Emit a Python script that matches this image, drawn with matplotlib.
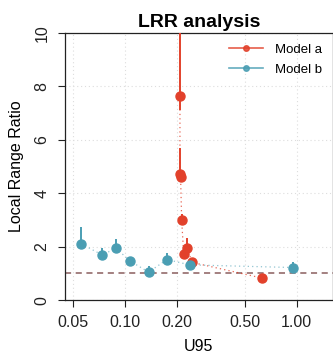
import numpy as np
import matplotlib
matplotlib.use("Agg")
import matplotlib.pyplot as plt

plt.rcParams["font.family"] = ["Liberation Sans", "DejaVu Sans"]

# Model a: U95 vs local range ratio, with interval bounds
u95_a = [0.2090, 0.2090, 0.2108, 0.2138, 0.2198, 0.2286, 0.2466, 0.625]
lrr_a = [7.63, 4.74, 4.60, 3.01, 1.71, 1.97, 1.41, 0.83]
lo_a = [7.12, 4.62, 4.50, 2.92, 1.62, 1.88, 1.34, 0.76]
hi_a = [11.0, 5.71, 4.80, 3.22, 1.80, 2.31, 1.50, 0.90]

# Model b
u95_b = [0.0555, 0.0738, 0.0887, 0.1065, 0.1374, 0.1757, 0.238, 0.955]
lrr_b = [2.11, 1.69, 1.95, 1.47, 1.05, 1.52, 1.32, 1.22]
lo_b = [2.02, 1.60, 1.86, 1.40, 0.98, 1.45, 1.25, 1.15]
hi_b = [2.74, 1.97, 2.27, 1.55, 1.27, 1.75, 1.40, 1.41]

x_ticks = [0.05, 0.10, 0.20, 0.50, 1.00]
y_ticks = [0, 2, 4, 6, 8, 10]

RED = "#E2412B"
BLUE = "#4A9EB3"

fig = plt.figure(figsize=(3.33, 3.59), dpi=100)
ax = fig.add_axes([0.195, 0.164, 0.8035, 0.744])

ax.set_xscale("log")
ax.set_xlim(0.0447, 1.616)
ax.set_ylim(0, 10)

for xt in x_ticks:
    ax.axvline(xt, color="#DDDDDD", lw=0.8, ls=(0, (1, 2.5)), zorder=0)
for yt in y_ticks:
    ax.axhline(yt, color="#DDDDDD", lw=0.8, ls=(0, (1, 2.5)), zorder=0)

ax.axhline(1, color="#8A5E5E", lw=1.1, ls=(0, (4, 3)), zorder=1)

for xs, ys, lo, hi, col, lab, a in [
    (u95_a, lrr_a, lo_a, hi_a, RED, "Model a", 0.8),
    (u95_b, lrr_b, lo_b, hi_b, BLUE, "Model b", 0.6),
]:
    ax.plot(xs, ys, color=col, lw=0.9, ls=(0, (1, 2.5)), alpha=a, zorder=2)
    ax.vlines(xs, lo, hi, color=col, lw=1.4, zorder=3)
    ax.plot(xs, ys, "o", color=col, ms=6.5, zorder=4)
    ax.plot([], [], "-o", color=col, lw=1.2, ms=4, alpha=0.85, label=lab)

ax.set_xticks(x_ticks)
ax.set_xticklabels([f"{v:.2f}" for v in x_ticks])
ax.xaxis.set_minor_locator(matplotlib.ticker.NullLocator())
ax.set_yticks(y_ticks)
ax.set_yticklabels([str(v) for v in y_ticks], rotation=90, va="center")
ax.tick_params(direction="out", length=5, width=0.8, labelsize=11.5, pad=6,
               colors="#222222")

for s in ax.spines.values():
    s.set_linewidth(0.9)
    s.set_color("#222222")

ax.set_title("LRR analysis", fontsize=14, fontweight="bold", pad=4)
ax.set_xlabel("U95", fontsize=11.5, labelpad=6)
ax.set_ylabel("Local Range Ratio", fontsize=11.5, labelpad=8)

ax.legend(loc="upper right", frameon=False, fontsize=9.5, handlelength=2.6,
          handletextpad=0.9, borderaxespad=0.4, labelspacing=0.6)

fig.savefig("out.png", dpi=100)
